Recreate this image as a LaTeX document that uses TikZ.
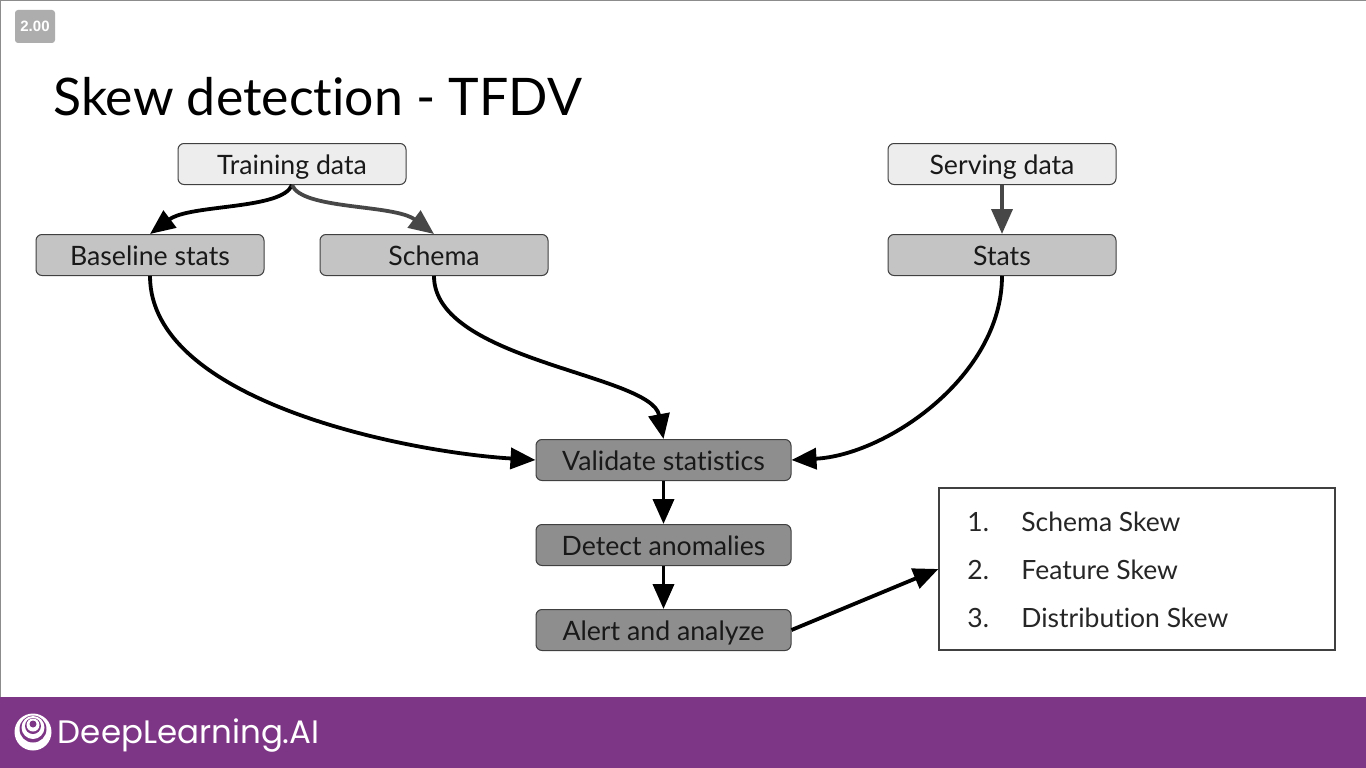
\documentclass[tikz,border=0pt]{standalone}
\usepackage{fontspec}
\setmainfont[Ligatures=NoCommon]{Lato}
\newfontfamily\logofont{Poppins}
\newfontfamily\badgefont{Liberation Sans}
\usetikzlibrary{positioning,arrows.meta}

\definecolor{barpurple}{HTML}{7D3585}
\definecolor{lightbox}{HTML}{EDEDED}
\definecolor{midbox}{HTML}{C4C4C4}
\definecolor{darkbox}{HTML}{8E8E8E}

\begin{document}
\begin{tikzpicture}[%
    x=1pt,
    y=-1pt,
    ->,
    >={Triangle[length=25pt,width=21pt]},
    line width=3.8pt,
    node distance=43pt and 55pt,
    stagebox/.style={%
      rectangle,
      rounded corners=6pt,
      minimum width=228pt,
      minimum height=41pt,
      text height=23pt,
      text depth=3pt,
      inner sep=0pt,
      line width=1pt,
      draw=black!75,
      text=black!90,
      font=\fontsize{26.7}{30}\selectfont
    },
    source/.style={stagebox,fill=lightbox},
    stats/.style={stagebox,fill=midbox},
    check/.style={stagebox,fill=darkbox,minimum width=255pt},
    listtext/.style={%
      anchor=west,
      inner sep=0pt,
      text=black!85,
      font=\fontsize{26.5}{30}\selectfont
    }
  ]
    \useasboundingbox (0,0) rectangle (1366,768);
    \fill[white] (0,0) rectangle (1366,768);
    \draw[-,line width=2pt,black!45] (0,697) -- (0,0) -- (1366,0);
    \fill[barpurple] (0,697) rectangle (1366,768);

    \node[rectangle,rounded corners=3pt,fill=black!32,text=white,minimum width=40pt,minimum height=33pt,inner sep=0pt,font=\badgefont\fontsize{15}{16}\bfseries\selectfont] (speed) at (35,26.5) {2.00};
    \node[anchor=west,inner sep=0pt,text=black,font=\fontsize{51.8}{60}\selectfont] (title) at (51.5,97) {Skew detection - TFDV};

    \node[source] (training) at (292,164)              {Training data};
    \node[stats]  (baseline) at (150,255)              {Baseline stats};
    \node[stats]  (schema)   [right=of baseline]       {Schema};
    \node[source] (serving)  at (1002,164)             {Serving data};
    \node[stats]  (stats)    at (1002,255)             {Stats};
    \node[check]  (validate) at (663.5,460)            {Validate statistics};
    \node[check]  (detect)   [below=of validate]       {Detect anomalies};
    \node[check]  (alert)    [below=of detect]         {Alert and analyze};

    \node[rectangle,draw=black!75,line width=1.2pt,fill=white,minimum width=396pt,minimum height=162pt,inner sep=0pt] (skews) at (1137,569) {};
    \node[listtext] (num1)  at (965.5,522)  {1.};
    \node[listtext] (item1) at (1019.5,522) {Schema Skew};
    \node[listtext] (num2)  at (965.5,570)  {2.};
    \node[listtext] (item2) at (1019.5,570) {Feature Skew};
    \node[listtext] (num3)  at (965.5,618)  {3.};
    \node[listtext] (item3) at (1019.5,618) {Distribution Skew};

    \draw (training.south) .. controls +(-10,25) and +(40,-30) .. (baseline.north);
    \draw[black!72] (training.south) .. controls +(10,25) and +(-40,-30) .. (schema.north);
    \draw[black!72] (serving) -- (stats);
    \draw (baseline.south) .. controls +(0,125) and +(-130,-8) .. (validate.west);
    \draw (schema.south) .. controls +(0,85) and +(-12,-65) .. (validate.north);
    \draw (stats.south) .. controls +(0,100) and +(95,-5) .. (validate.east);
    \draw (validate) -- (detect);
    \draw (detect) -- (alert);
    \draw (alert.east) -- (skews.west);

    % logo
    \fill[white] (33,732) circle (18.5);
    \fill[barpurple] (33,729) circle (13.5);
    \fill[white] (33,727.5) circle (11.5);
    \fill[barpurple] (33,726) circle (8);
    \fill[white] (33,725) circle (6.5);
    \fill[barpurple] (33,724) circle (3.5);
    \node[anchor=west,inner sep=0pt,text=white,font=\logofont\fontsize{32.5}{40}\selectfont] (brand) at (56,735.5) {DeepLearning.AI};
  \end{tikzpicture}
\end{document}
